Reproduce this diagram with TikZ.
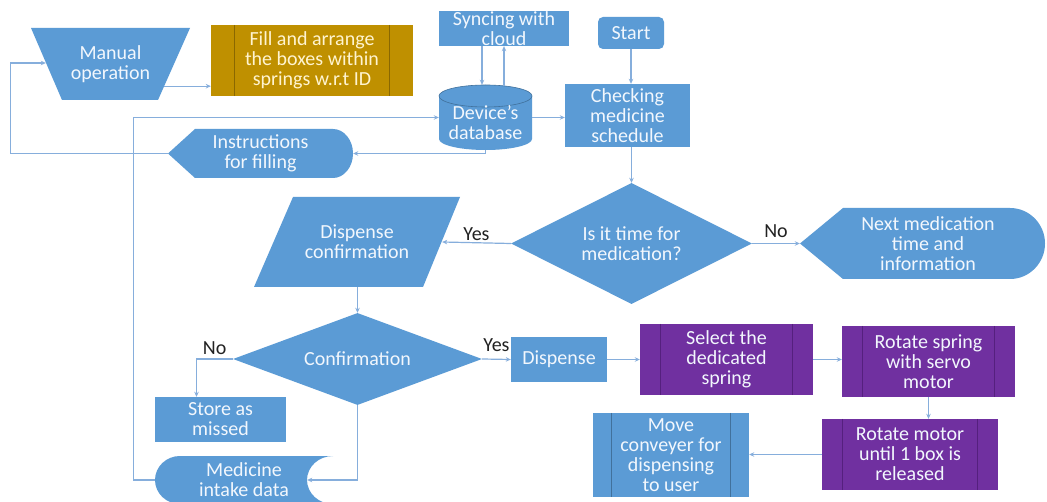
\documentclass[tikz,border=0pt]{standalone}
\usepackage{fontspec}
\setmainfont{Carlito}
\usetikzlibrary{shapes.geometric,arrows.meta,calc}
\definecolor{bfill}{HTML}{5B9BD5}
\definecolor{gfill}{HTML}{BF9000}
\definecolor{pfill}{HTML}{7030A0}
\definecolor{gline}{HTML}{8A6800}
\definecolor{pline}{HTML}{55207E}
\definecolor{bline}{HTML}{41719C}
\definecolor{aline}{HTML}{86AEDC}
\definecolor{btext}{HTML}{F2F7FD}
\definecolor{gtext}{HTML}{FFF4D0}
\definecolor{ltext}{HTML}{222222}
\begin{document}
\begin{tikzpicture}[x=1pt,y=-1pt,
  txt/.style={inner sep=0pt, align=center, text=btext, font=\fontsize{20}{20}\selectfont},
  sized/.style 2 args={minimum width=#1pt, minimum height=#2pt},
  arr/.style={draw=aline, line width=1.2pt, -{Stealth[length=5pt,width=4.5pt]}},
  lbl/.style={font=\fontsize{20}{20}\selectfont, text=ltext, inner sep=1pt},
  ppline/.style={line width=0.8pt}
]
\fill[white] (0,0) rectangle (1047,502);
\useasboundingbox (0,0) rectangle (1047,502);

% Manual operation (trapezoid)
\fill[bfill] (31,28) -- (190,28) -- (158,100) -- (62,100) -- cycle;
\node[txt, sized={159}{72}] (manual) at (110.5,64) {Manual\\operation};

% Fill and arrange (predefined process, gold)
\node[txt, fill=gfill, text=gtext, sized={202}{71}] (arrange) at (312,60.5) {Fill and arrange\\the boxes within\\springs w.r.t ID};

% Syncing with cloud
\fill[bfill] (439,11) rectangle (569,46);
\node[txt, sized={130}{35}] (sync) at (504,28.5) {Syncing with\\cloud};

% Start
\node[txt, fill=bfill, rounded corners=5pt, sized={66}{32}] (start) at (631,33) {Start};

% Device's database (cylinder)
\fill[bfill] (439,96) -- (439,139) arc[start angle=180,end angle=360,x radius=46.5pt,y radius=11pt] -- (532,96) arc[start angle=0,end angle=180,x radius=46.5pt,y radius=11pt] -- cycle;
\draw[bline, line width=0.6pt] (485.5,96) ellipse [x radius=46.5pt, y radius=11pt];
\node[sized={93}{65}, inner sep=0pt] (db) at (485.5,117.5) {};
\node[txt] (dbtext) at (485.5,123) {Device’s\\database};

% Checking medicine schedule
\node[txt, fill=bfill, sized={125}{63}] (check) at (627.5,115.5) {Checking\\medicine\\schedule};

% Instructions for filling (display)
\fill[bfill] (168,153.5) -- (195,129) -- (333,129) arc[start angle=90,end angle=-90,x radius=20pt,y radius=24.5pt] -- (195,178) -- cycle;
\node[txt, sized={185}{49}] (instr) at (260.5,153.5) {Instructions\\for filling};

% Is it time for medication?
\node[txt, diamond, aspect=2, fill=bfill, sized={241}{121}] (q1) at (631.5,243.5) {Is it time for\\medication?};

% Dispense confirmation (parallelogram)
\fill[bfill] (293,197) -- (460,197) -- (423,287) -- (254,287) -- cycle;
\node[txt, sized={206}{90}] (dconf) at (357,242) {Dispense\\confirmation};

% Next medication (display)
\fill[bfill] (800,243.5) -- (843,208) -- (1010,208) arc[start angle=90,end angle=-90,x radius=35pt,y radius=35.5pt] -- (843,279) -- cycle;
\node[txt, sized={256}{71}] (next) at (928,243.5) {Next medication\\time and\\information};

% Confirmation
\node[txt, diamond, aspect=2.5, fill=bfill, sized={249}{92}] (conf) at (357.5,359) {Confirmation};

% Store as missed
\node[txt, fill=bfill, sized={131}{45}] (store) at (220.5,419.5) {Store as\\missed};

% Medicine intake data (stored data)
\fill[bfill] (180,456) -- (333,456) arc[start angle=90,end angle=270,x radius=26pt,y radius=24pt] -- (180,504) arc[start angle=270,end angle=90,x radius=25pt,y radius=24pt] -- cycle;
\node[txt, sized={178}{48}] (med) at (244,480) {Medicine\\intake data};

% Dispense
\node[txt, fill=bfill, sized={96}{45}] (disp) at (559,359.5) {Dispense};

% Purple predefined processes
\node[txt, fill=pfill, sized={173}{71}] (sel) at (726.5,359.5) {Select the\\dedicated\\spring};
\node[txt, fill=pfill, sized={173}{71}] (rs) at (928.5,361.5) {Rotate spring\\with servo\\motor};
\node[txt, fill=pfill, sized={176}{71}] (rm) at (910,454.5) {Rotate motor\\until 1 box is\\released};

% Move conveyer
\node[txt, fill=bfill, sized={156}{84}] (mc) at (671,455) {Move\\conveyer for\\dispensing\\to user};

% inner lines of predefined processes
\foreach \n/\d/\c in {arrange/24/gline, sel/21/pline, rs/21/pline, rm/21/pline, mc/19/bline} {
  \draw[\c, ppline] ([xshift=\d pt]\n.north west) -- ([xshift=\d pt]\n.south west);
  \draw[\c, ppline] ([xshift=-\d pt]\n.north east) -- ([xshift=-\d pt]\n.south east);
}

% connectors
\draw[arr] ([xshift=-26pt,yshift=14pt]manual.south east) coordinate (mo) -- (mo -| arrange.west);
\draw[arr] (instr.west) -- ++(-157,0) |- ([xshift=15pt,yshift=1pt]manual.west);
\draw[arr] (db.south) |- (instr.east);
\draw[arr] (med.west) -- ++(-21,0) |- (db.west);
\draw[arr] (db.east) -- (db.east -| check.west);
\draw[arr] ([xshift=-22pt]sync.south) -- ([xshift=-3.5pt]db.north);
\draw[arr] ([xshift=18.5pt,yshift=-1pt]db.north) -- (sync.south);
\draw[arr] (start.south) -- (start.south |- check.north);
\draw[arr] (check.south -| q1.north) -- (q1.north);
\draw[arr] (q1.west) -- node[lbl, above=1pt]{Yes} ([xshift=-18pt]dconf.east);
\draw[arr] (q1.east) -- node[lbl, above=4pt]{No} (next.west);
\draw[arr] (conf.north |- dconf.south) -- (conf.north);
\draw[arr] (conf.west) -| node[lbl, above=3pt, pos=0.25]{No} ([xshift=-24pt]store.north);
\draw[arr] (conf.east) -- node[lbl, above=6pt]{Yes} (disp.west);
\draw[arr] (conf.south) |- ([xshift=-26pt]med.east);
\draw[arr] (disp.east) -- (sel.west);
\draw[arr] (sel.east) -- (sel.east -| rs.west);
\draw[arr] (rs.south) -- (rs.south |- rm.north);
\draw[arr] (rm.west) -- (rm.west -| mc.east);
\end{tikzpicture}
\end{document}
